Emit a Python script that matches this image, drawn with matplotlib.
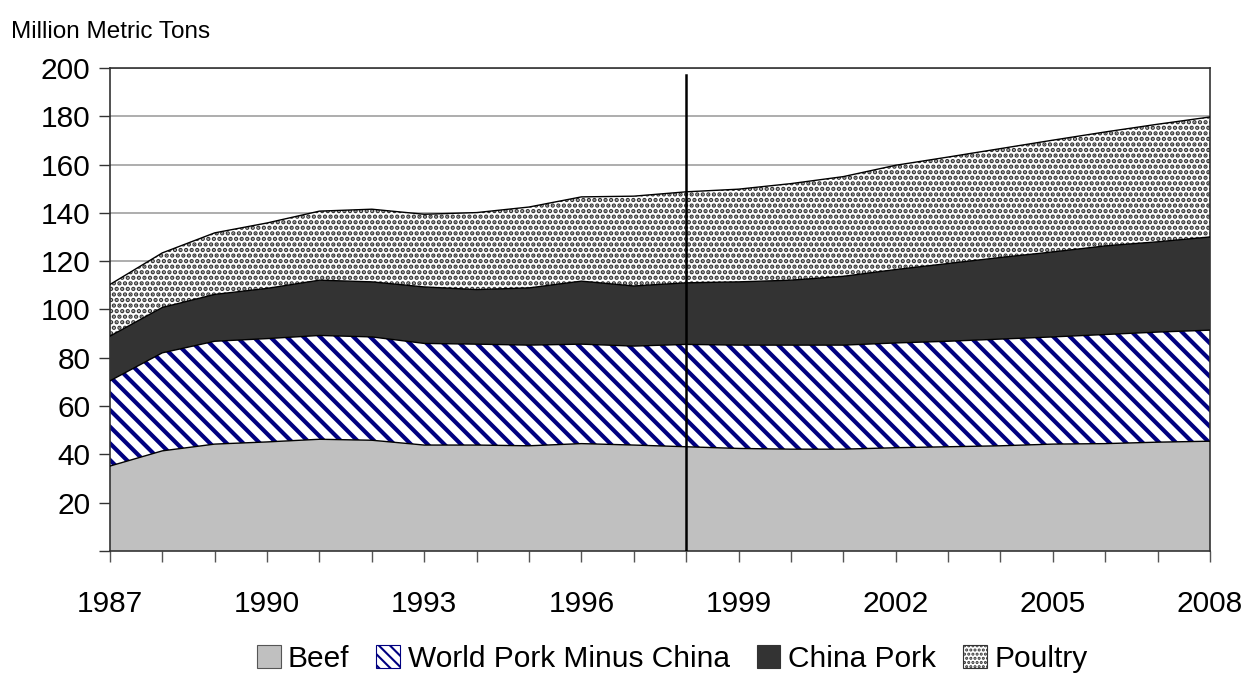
import matplotlib
matplotlib.use('Agg')
import matplotlib.pyplot as plt
from matplotlib.patches import Patch
import numpy as np

# world meat production, million metric tons
years = list(range(1987, 2009))
beef = [35.1, 41.4, 44.2, 45.1, 46.2, 45.8, 43.8, 43.8, 43.5, 44.4, 43.8,
        43.1, 42.4, 42.1, 42.1, 42.7, 43.1, 43.5, 44.2, 44.4, 45.0, 45.4]
pork_ex_china = [35.3, 40.6, 42.6, 42.8, 43.0, 42.8, 42.1, 41.8, 41.7, 41.2, 41.0,
                 42.4, 42.8, 43.1, 43.1, 43.4, 43.7, 44.2, 44.4, 45.2, 45.6, 46.0]
china_pork = [18.5, 18.8, 19.4, 20.8, 22.9, 22.8, 23.4, 22.6, 23.7, 26.1, 24.9,
              25.5, 26.2, 26.9, 28.5, 30.4, 32.2, 33.8, 35.2, 36.7, 37.4, 38.6]
poultry = [21.4, 22.6, 25.5, 27.1, 28.6, 30.1, 30.1, 31.9, 33.5, 34.9, 37.2,
           37.7, 38.4, 40.0, 41.3, 43.2, 44.1, 45.1, 46.3, 47.2, 48.7, 49.7]
labels = ['Beef', 'World Pork Minus China', 'China Pork', 'Poultry']
xtick_years = list(range(1987, 2009, 3))
split_year = 1998

plt.rcParams['font.family'] = ['Liberation Sans', 'DejaVu Sans']

fig = plt.figure(figsize=(12.49, 6.75), dpi=100)
ax = fig.add_axes([0.088, 0.184, 0.8808, 0.7153])

x = np.array(years)
b0 = np.zeros(len(years))
b1 = b0 + np.array(beef)
b2 = b1 + np.array(pork_ex_china)
b3 = b2 + np.array(china_pork)
b4 = b3 + np.array(poultry)

# fills (hatch width is picked up when each artist is made)
ax.fill_between(x, b0, b1, facecolor='#c0c0c0', linewidth=0, zorder=2)
plt.rcParams['hatch.linewidth'] = 3.0
ax.fill_between(x, b1, b2, facecolor='white', edgecolor='#000080', hatch='\\\\',
                linewidth=0, zorder=2)
ax.fill_between(x, b2, b3, facecolor='#333333', linewidth=0, zorder=2)
plt.rcParams['hatch.linewidth'] = 2.2
ax.fill_between(x, b3, b4, facecolor='white', edgecolor='#333333', hatch='...',
                linewidth=0, zorder=2)
# boundary lines
for top in (b1, b2, b3, b4):
    ax.plot(x, top, color='black', lw=1, zorder=3)

ax.axvline(split_year, ymin=0, ymax=0.985, color='black', lw=1.8, zorder=4)

ax.set_xlim(1987, 2008)
ax.set_ylim(0, 200)
ax.set_yticks(range(20, 201, 20))
ax.set_yticks([0], minor=True)
ax.yaxis.grid(True, color='#a0a0a0', lw=1.2, zorder=0)
ax.set_axisbelow(True)
ax.set_xticks(xtick_years)
ax.set_xticks(years, minor=True)
ax.tick_params(axis='x', which='both', direction='out', length=8, width=1,
               color='#555555', labelsize=21.5, pad=20)
ax.tick_params(axis='y', which='both', direction='out', length=8, width=1,
               color='#333333', labelsize=21.5, pad=6)
for s in ax.spines.values():
    s.set_color('#333333')
    s.set_linewidth(1.2)

fig.text(0.009, 0.953, 'Million Metric Tons', fontsize=17.5, ha='left', va='center')

plt.rcParams['hatch.linewidth'] = 2.0
h_pork = Patch(facecolor='white', edgecolor='#000080', hatch='\\\\\\', lw=0.8)
plt.rcParams['hatch.linewidth'] = 1.5
h_poul = Patch(facecolor='white', edgecolor='#333333', hatch='....', lw=0.8)
handles = [
    Patch(facecolor='#c0c0c0', edgecolor='#555555', lw=0.8),
    h_pork,
    Patch(facecolor='#333333', edgecolor='#333333', lw=0.8),
    h_poul,
]
fig.legend(handles, labels, loc='center', bbox_to_anchor=(0.538, 0.024), ncol=4,
           frameon=False, fontsize=21.5, handlelength=0.8, handleheight=0.8,
           handletextpad=0.25, columnspacing=0.9)

fig.savefig('out.png', dpi=100)
